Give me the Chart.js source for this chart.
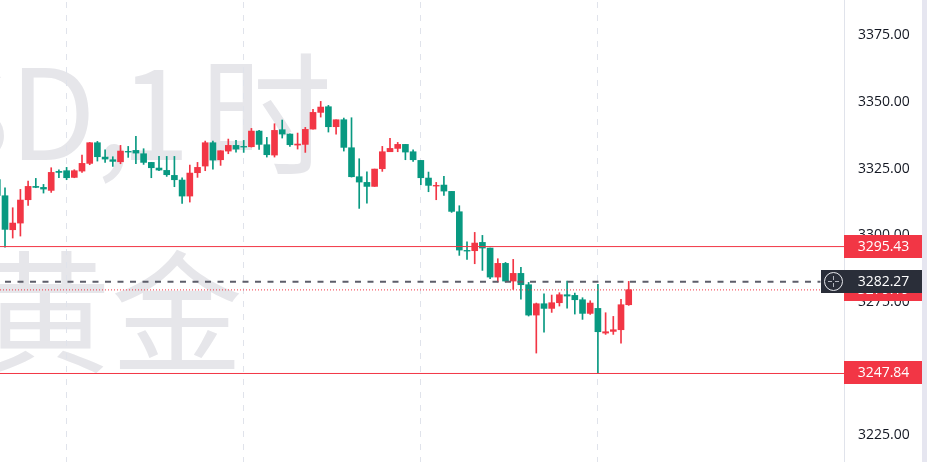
<!DOCTYPE html>
<html><head><meta charset="utf-8">
<script src="https://cdn.jsdelivr.net/npm/chart.js@4"></script>
<style>html,body{margin:0;padding:0;background:#fff;overflow:hidden}canvas{display:block}</style>
</head><body><canvas id="c" width="927" height="462" style="width:927px;height:462px"></canvas>
<script>
const opens  = [3320.6,3314.5,3301.75,3304.25,3313,3318,3317.63,3316.5,3323.63,3323.88,3321.38,3323.75,3326.63,3334.38,3329,3328,3327.25,3331.13,3331.5,3330.25,3327,3324.88,3324,3322.13,3320.38,3314.38,3323.13,3325.63,3334.38,3328,3331.25,3333.38,3333,3332.88,3338.75,3333.63,3329.75,3339.25,3337.63,3333.5,3333.75,3339.5,3345.75,3347.88,3340.38,3343,3332.5,3321.63,3319.5,3318,3324.63,3331,3332.25,3333.75,3331,3327.75,3321.13,3318.13,3318.5,3316.13,3308.5,3294,3293.88,3297,3294.88,3284,3289.13,3282.5,3285.38,3281.13,3269.75,3274,3272.25,3274.38,3277.38,3277.13,3275.5,3270.38,3272.25,3263,3263.63,3264.25,3273.63];
const closes = [3314.6,3301.88,3304.25,3312.88,3318,3317.63,3317,3323.25,3323.25,3321.25,3323.88,3326.63,3334.38,3329.13,3328.25,3327.38,3331.25,3330.88,3330.5,3327,3325,3324.13,3322.38,3320.5,3314.38,3323,3325.13,3334.38,3327.88,3331.38,3333.38,3332,3332.75,3338.75,3333.75,3329.88,3339,3337.63,3333.63,3333.88,3339.38,3345.75,3347.75,3340.38,3343,3332.63,3321.63,3319.63,3318,3324.5,3331,3332.25,3333.75,3330.88,3328,3321.25,3318.38,3318.38,3316.25,3308.63,3294.13,3293.75,3296.75,3294.88,3284,3289.13,3282.5,3285.38,3281.13,3269.75,3274,3272.25,3274.38,3277.38,3276.88,3275.5,3270.38,3274.25,3263.5,3263.5,3264.25,3273.63,3279.25];
const highs  = [3320.6,3317.5,3310,3316.88,3320,3321,3318.75,3325,3324.25,3325.13,3324.25,3329.75,3334.5,3334.88,3331.75,3329.13,3333.38,3333,3336.75,3332.13,3327,3329.25,3329.25,3329.25,3321.25,3326,3327,3335,3335,3331.38,3335.75,3335.25,3335.25,3339.75,3339,3336.38,3341.5,3342.88,3337.75,3338,3340.13,3346.88,3349.88,3348.38,3343,3343.63,3343.75,3328.38,3323.5,3324.5,3333,3336,3334.5,3333.75,3331.75,3327.75,3323.38,3319.5,3321.75,3316.13,3310.75,3297.25,3300.75,3299.63,3294.88,3290.88,3289.5,3290.63,3287.63,3282,3274.25,3277.75,3277.25,3278.13,3282.5,3278,3276.25,3275.13,3281.25,3270.63,3269.25,3275.63,3282.38];
const lows   = [3314.6,3295.25,3298.63,3299.38,3310.88,3317.5,3315.5,3315.75,3321.25,3320.5,3321.25,3323.25,3326.13,3327.5,3327,3325.5,3326.5,3328.88,3326.5,3326.25,3321.25,3323.88,3321.75,3317.88,3311.63,3312.13,3321.38,3323.88,3324.5,3325.88,3330.25,3330.88,3330.75,3332.75,3331.88,3329,3329,3336.13,3333,3332,3330.75,3339.5,3344,3338.38,3337.63,3331.25,3321.5,3309.75,3311.75,3318,3323.63,3331,3331,3328,3327.38,3318.63,3316,3313,3314.63,3308.25,3292.13,3290.63,3289,3286.5,3283.38,3282.13,3282.13,3279.38,3275.75,3269.38,3255.5,3263.38,3270.75,3273.13,3272.38,3270.13,3268.13,3270,3247.75,3262.5,3262.5,3259.25,3273.38];
const levelUpper = 3295.43;
const levelLower = 3247.84;
const levelLast = 3282.27;
const levelPrev = 3279.19;
const yTicks = [3225,3250,3275,3300,3325,3350,3375];
const xGrid = [9,32,55,78];
const yMin = 3214.65, yMax = 3387.9, xMin = 0.35, xMax = 109.96;
const RED='#f23645', GREEN='#089981', INK='#131722', DARK='#2a2e39';
const idx = opens.map((_,i)=>i);
const bodyColor = opens.map((o,i)=>closes[i]>=o?RED:GREEN);
const fmt = v=>v.toFixed(2);

const decor = {
  id:'decor',
  beforeDraw(ch){
    const {ctx,chartArea:a}=ch;
    ctx.save();
    ctx.fillStyle='#fff';ctx.fillRect(0,0,ch.width,ch.height);
    ctx.beginPath();ctx.rect(a.left,a.top,a.right-a.left,a.bottom-a.top);ctx.clip();
    ctx.fillStyle='#e6e6ea';ctx.textAlign='right';ctx.textBaseline='alphabetic';
    ctx.font='126px "Noto Sans CJK SC"';
    ctx.fillText('XAUUSD,',131,160);
    ctx.fillText('1',190,160);
    ctx.font='132px "Noto Sans CJK SC"';
    ctx.fillText('时',332,164);
    ctx.fillText('黄金',243,362);
    ctx.restore();
  },
  afterDatasetsDraw(ch){
    const {ctx,chartArea:a,scales:{y}}=ch;
    ctx.save();
    ctx.strokeStyle='#e0e3eb';ctx.lineWidth=1;
    ctx.beginPath();ctx.moveTo(a.right+.5,0);ctx.lineTo(a.right+.5,ch.height);ctx.stroke();
    ctx.fillStyle='#e6e6f0';ctx.fillRect(922,0,5,ch.height);
    const tag=(v,bg,left)=>{
      const py=Math.round(y.getPixelForValue(v));
      ctx.fillStyle=bg;ctx.fillRect(left,py-12,922-left,23);
      ctx.fillStyle='#fff';ctx.textAlign='center';ctx.textBaseline='middle';
      ctx.font='14px "Open Sans"';
      ctx.fillText(fmt(v),883.5,py);
      return py;
    };
    tag(levelUpper,RED,844);
    tag(levelLower,RED,844);
    tag(levelPrev,RED,844);
    const py=tag(levelLast,DARK,821);
    ctx.strokeStyle='#e8e9ee';ctx.lineWidth=1;
    ctx.beginPath();ctx.arc(833.5,py-.5,9,0,Math.PI*2);ctx.stroke();
    ctx.strokeStyle='#b2b5be';
    ctx.beginPath();ctx.moveTo(833.5,py-6);ctx.lineTo(833.5,py-2);ctx.moveTo(833.5,py+1);ctx.lineTo(833.5,py+5);
    ctx.moveTo(828,py-.5);ctx.lineTo(832,py-.5);ctx.moveTo(835,py-.5);ctx.lineTo(839,py-.5);ctx.stroke();
    ctx.restore();
  }
};
const level=(v,color,dash,width,off)=>({type:'line',data:[{x:xMin,y:v},{x:dash.length?106.9:xMax,y:v}],borderColor:color,borderWidth:width,borderDash:dash,borderDashOffset:off||0,pointRadius:0,order:0,tension:0});
new Chart(document.getElementById('c'),{
  data:{datasets:[
    level(levelUpper,RED,[],1),
    level(levelLower,RED,[],1),
    level(levelLast,'#5d5e6a',[6,6.5],2,7.5),
    level(levelPrev,RED,[1,2],1),
    {type:'bar',data:idx.map((x,i)=>({x,y:[opens[i],closes[i]]})),backgroundColor:bodyColor,barThickness:6,grouped:false,order:1},
    {type:'bar',data:idx.map((x,i)=>({x,y:[lows[i],highs[i]]})),backgroundColor:bodyColor,barThickness:1,grouped:false,order:2}
  ]},
  options:{
    responsive:false,animation:false,devicePixelRatio:1,
    layout:{padding:{left:0,top:0,bottom:0,right:5}},
    plugins:{legend:{display:false},tooltip:{enabled:false}},
    scales:{
      x:{type:'linear',min:xMin,max:xMax,offset:false,
        afterBuildTicks(s){s.ticks=xGrid.map(value=>({value}));},
        ticks:{display:false},border:{display:false,dash:[6,7],dashOffset:11},
        grid:{color:'#e0e3eb',lineWidth:1,drawTicks:false,offset:false},
        afterFit(s){s.height=0;s.paddingLeft=0;s.paddingRight=0;}},
      y:{type:'linear',position:'right',min:yMin,max:yMax,
        afterBuildTicks(s){s.ticks=yTicks.map(value=>({value}));},
        afterFit(s){s.width=78;s.paddingTop=0;s.paddingBottom=0;},
        border:{display:false},
        grid:{display:false,drawTicks:false},
        ticks:{callback:v=>fmt(v),color:INK,padding:14,labelOffset:1,font:{family:'"Open Sans"',size:14},align:'center',crossAlign:'near'}}
    }
  },
  plugins:[decor]
});
</script></body></html>
